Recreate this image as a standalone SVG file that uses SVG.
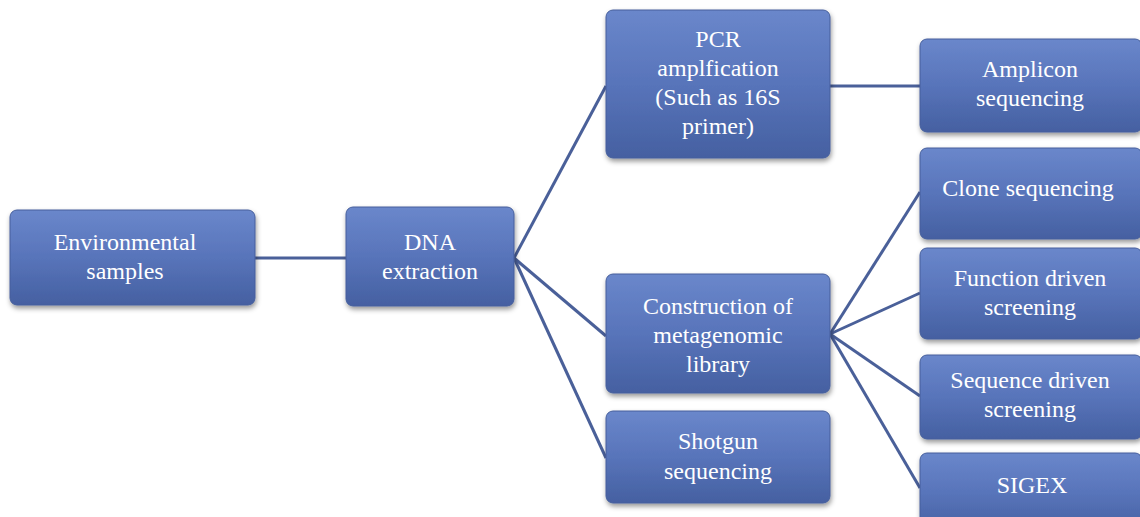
<svg xmlns="http://www.w3.org/2000/svg" width="1140" height="517" viewBox="0 0 1140 517">
<defs>
<linearGradient id="g" x1="0" y1="0" x2="0" y2="1">
<stop offset="0" stop-color="#6a87cb"/>
<stop offset="0.5" stop-color="#5874ba"/>
<stop offset="1" stop-color="#4560a1"/>
</linearGradient>
<filter id="sh" x="-10%" y="-10%" width="125%" height="135%">
<feDropShadow dx="1" dy="3" stdDeviation="2.5" flood-color="#000" flood-opacity="0.4"/>
</filter>
<style>
.box{fill:url(#g);stroke:#465f9c;stroke-width:1;filter:url(#sh)}
.t{font-family:"Liberation Serif","Times New Roman",serif;font-size:24px;fill:#ffffff;text-anchor:middle}
.c{stroke:#4a6099;stroke-width:3;fill:none}
</style>
</defs>
<rect width="1140" height="517" fill="#ffffff"/>
<g id="connectors">
<line class="c" x1="255" y1="258" x2="346" y2="258"/>
<line class="c" x1="514" y1="258" x2="606" y2="86"/>
<line class="c" x1="514" y1="258" x2="606" y2="336"/>
<line class="c" x1="514" y1="258" x2="606" y2="458"/>
<line class="c" x1="830" y1="86" x2="920" y2="86"/>
<line class="c" x1="830" y1="334" x2="920" y2="192"/>
<line class="c" x1="830" y1="334" x2="920" y2="293"/>
<line class="c" x1="830" y1="334" x2="920" y2="396"/>
<line class="c" x1="830" y1="334" x2="920" y2="488"/>
</g>
<g id="env">
<rect class="box" x="10" y="210" width="245" height="95" rx="7"/>
<text class="t" x="125" y="250">Environmental</text>
<text class="t" x="125" y="279">samples</text>
</g>
<g id="dna">
<rect class="box" x="346" y="207" width="168" height="99" rx="7"/>
<text class="t" x="430" y="250">DNA</text>
<text class="t" x="430" y="279">extraction</text>
</g>
<g id="pcr">
<rect class="box" x="606" y="10" width="224" height="148" rx="7"/>
<text class="t" x="718" y="47">PCR</text>
<text class="t" x="718" y="76">amplfication</text>
<text class="t" x="718" y="105">(Such as 16S</text>
<text class="t" x="718" y="134">primer)</text>
</g>
<g id="construction">
<rect class="box" x="606" y="274" width="224" height="119" rx="7"/>
<text class="t" x="718" y="314">Construction of</text>
<text class="t" x="718" y="343">metagenomic</text>
<text class="t" x="718" y="372">library</text>
</g>
<g id="shotgun">
<rect class="box" x="606" y="411" width="224" height="92" rx="7"/>
<text class="t" x="718" y="449">Shotgun</text>
<text class="t" x="718" y="479">sequencing</text>
</g>
<g id="amplicon">
<rect class="box" x="920" y="39" width="222" height="93" rx="7"/>
<text class="t" x="1030" y="77">Amplicon</text>
<text class="t" x="1030" y="106">sequencing</text>
</g>
<g id="clone">
<rect class="box" x="920" y="148" width="222" height="91" rx="7"/>
<text class="t" x="1028" y="196">Clone sequencing</text>
</g>
<g id="function">
<rect class="box" x="920" y="248" width="222" height="91" rx="7"/>
<text class="t" x="1030" y="286">Function driven</text>
<text class="t" x="1030" y="315">screening</text>
</g>
<g id="sequence">
<rect class="box" x="920" y="355" width="222" height="84" rx="7"/>
<text class="t" x="1030" y="388">Sequence driven</text>
<text class="t" x="1030" y="417">screening</text>
</g>
<g id="sigex">
<rect class="box" x="920" y="453" width="222" height="80" rx="7"/>
<text class="t" x="1032" y="493">SIGEX</text>
</g>
</svg>
